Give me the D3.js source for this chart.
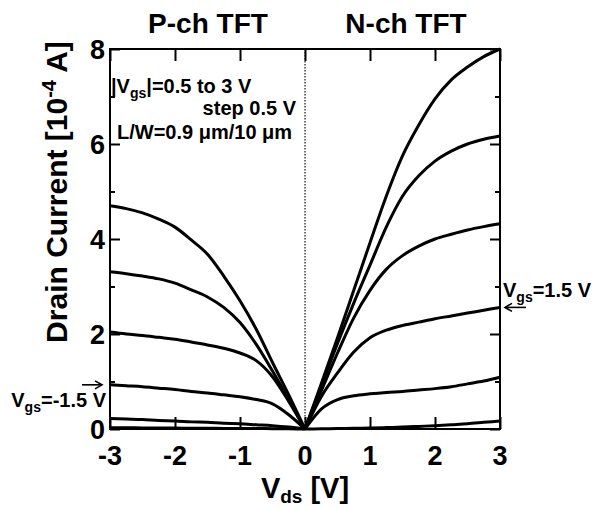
<!DOCTYPE html>
<html>
<head>
<meta charset="utf-8">
<script src="https://cdn.jsdelivr.net/npm/d3@7"></script>
<style>
	body { margin: 0; background: #fff; }
	svg { display: block; font-family: "Liberation Sans", Arial, sans-serif; font-weight: bold; }
</style>
</head>
<body>
<div id="chart"></div>
<script>
// drain voltage grids [V]
var vdsN = [0, 0.25, 0.5, 0.75, 1, 1.25, 1.5, 1.75, 2, 2.25, 2.5, 2.75, 3];
var vdsP = [0, -0.25, -0.5, -0.75, -1, -1.25, -1.5, -1.75, -2, -2.25, -2.5, -2.75, -3];

// N-ch drain current [1e-4 A], |Vgs| = 0.5 .. 3 V
var nch05 = [0, 0.005, 0.01, 0.015, 0.02, 0.03, 0.04, 0.055, 0.07, 0.09, 0.11, 0.14, 0.17];
var nch10 = [0, 0.42, 0.62, 0.70, 0.74, 0.77, 0.79, 0.82, 0.85, 0.89, 0.95, 1.01, 1.09];
var nch15 = [0, 0.68, 1.18, 1.62, 1.92, 2.08, 2.18, 2.25, 2.32, 2.38, 2.44, 2.50, 2.56];
var nch20 = [0, 0.80, 1.60, 2.34, 2.92, 3.36, 3.65, 3.85, 4.00, 4.10, 4.19, 4.26, 4.32];
var nch25 = [0, 0.90, 1.80, 2.65, 3.45, 4.25, 4.90, 5.33, 5.64, 5.85, 6.00, 6.10, 6.17];
var nch30 = [0, 0.95, 1.92, 2.92, 3.92, 4.90, 5.75, 6.40, 6.95, 7.35, 7.62, 7.84, 8.00];

// P-ch drain current magnitude [1e-4 A]
var pch05 = [0, 0.004, 0.007, 0.009, 0.011, 0.013, 0.015, 0.017, 0.019, 0.021, 0.023, 0.025, 0.027];
var pch10 = [0, 0.04, 0.07, 0.09, 0.11, 0.12, 0.14, 0.15, 0.17, 0.18, 0.20, 0.21, 0.22];
var pch15 = [0, 0.30, 0.53, 0.62, 0.68, 0.72, 0.76, 0.79, 0.83, 0.86, 0.89, 0.91, 0.93];
var pch20 = [0, 0.58, 1.10, 1.44, 1.60, 1.70, 1.77, 1.83, 1.89, 1.93, 1.97, 2.00, 2.04];
var pch25 = [0, 0.62, 1.22, 1.78, 2.24, 2.56, 2.78, 2.93, 3.07, 3.16, 3.22, 3.27, 3.31];
var pch30 = [0, 0.72, 1.40, 2.10, 2.70, 3.22, 3.68, 3.98, 4.25, 4.42, 4.55, 4.64, 4.70];

var xTicks = [-3, -2, -1, 0, 1, 2, 3];
var yTicks = [0, 2, 4, 6, 8];
var yMinor = [1, 3, 5, 7];

var width = 595, height = 510;
var plot = {left: 110, right: 500, top: 49, bottom: 429};

var svg = d3.select('#chart').append('svg')
	.attr('width', width)
	.attr('height', height)
	.attr('viewBox', '0 0 ' + width + ' ' + height);

var x = d3.scaleLinear().domain([-3, 3]).range([plot.left, plot.right]);
var y = d3.scaleLinear().domain([0, 8]).range([plot.bottom, plot.top]);

// zero line
svg.append('line')
	.attr('x1', x(0)).attr('x2', x(0))
	.attr('y1', y(8)).attr('y2', y(0))
	.attr('stroke', '#444')
	.attr('stroke-width', 1.5)
	.attr('stroke-dasharray', '1.5,1.5');

// curves
var line = d3.line()
	.x(function(d) { return x(d[0]); })
	.y(function(d) { return y(d[1]); })
	.curve(d3.curveMonotoneX);

function pts(vds, id) {
	return vds.map(function(v, i) { return [v, id[i]]; })
		.sort(function(a, b) { return a[0] - b[0]; });
}

var curves = [
	pts(vdsN, nch05), pts(vdsN, nch10), pts(vdsN, nch15),
	pts(vdsN, nch20), pts(vdsN, nch25), pts(vdsN, nch30),
	pts(vdsP, pch05), pts(vdsP, pch10), pts(vdsP, pch15),
	pts(vdsP, pch20), pts(vdsP, pch25), pts(vdsP, pch30)
];

svg.append('g').selectAll('path')
	.data(curves)
	.enter().append('path')
	.attr('d', line)
	.attr('fill', 'none')
	.attr('stroke', '#000')
	.attr('stroke-width', 3)
	.attr('stroke-linejoin', 'round');

// axes (ticks pointing inward on all four sides)
var bottomAxis = d3.axisTop(x).tickValues(xTicks).tickSize(12).tickFormat('');
var topAxis = d3.axisBottom(x).tickValues(xTicks).tickSize(12).tickFormat('');
svg.append('g').attr('transform', 'translate(0,' + plot.bottom + ')').call(bottomAxis);
svg.append('g').attr('transform', 'translate(0,' + plot.top + ')').call(topAxis);

svg.append('g').attr('transform', 'translate(' + plot.left + ',0)')
	.call(d3.axisRight(y).tickValues(yTicks).tickSize(10).tickFormat(''));
svg.append('g').attr('transform', 'translate(' + plot.left + ',0)')
	.call(d3.axisRight(y).tickValues(yMinor).tickSize(5).tickFormat(''));
svg.append('g').attr('transform', 'translate(' + plot.right + ',0)')
	.call(d3.axisLeft(y).tickValues(yTicks).tickSize(10).tickFormat(''));
svg.append('g').attr('transform', 'translate(' + plot.right + ',0)')
	.call(d3.axisLeft(y).tickValues(yMinor).tickSize(5).tickFormat(''));

svg.selectAll('.domain').remove();
svg.selectAll('.tick line').attr('stroke', '#000').attr('stroke-width', 2);

// frame
svg.append('rect')
	.attr('x', plot.left).attr('y', plot.top)
	.attr('width', plot.right - plot.left)
	.attr('height', plot.bottom - plot.top)
	.attr('fill', 'none')
	.attr('stroke', '#000')
	.attr('stroke-width', 2);

// tick labels
svg.append('g').selectAll('text')
	.data(xTicks)
	.enter().append('text')
	.attr('x', function(d) { return x(d); })
	.attr('y', 465)
	.attr('text-anchor', 'middle')
	.attr('font-size', 27)
	.text(function(d) { return d; });

svg.append('g').selectAll('text')
	.data(yTicks)
	.enter().append('text')
	.attr('x', plot.left - 5)
	.attr('y', function(d) { return y(d); })
	.attr('dy', '0.36em')
	.attr('text-anchor', 'end')
	.attr('font-size', 27)
	.text(function(d) { return d; });

// axis titles
var xl = svg.append('text')
	.attr('x', 305).attr('y', 498)
	.attr('text-anchor', 'middle')
	.attr('font-size', 29);
xl.append('tspan').text('V');
xl.append('tspan').attr('font-size', 19).attr('dy', 5).text('ds');
xl.append('tspan').attr('dy', -5).text(' [V]');

var yl = svg.append('text')
	.attr('transform', 'translate(67,192) rotate(-90)')
	.attr('text-anchor', 'middle')
	.attr('font-size', 30);
yl.append('tspan').text('Drain Current [10');
yl.append('tspan').attr('font-size', 20).attr('dy', -11).text('-4');
yl.append('tspan').attr('dy', 11).text(' A]');

// channel titles
svg.append('text').attr('x', 208).attr('y', 33).attr('text-anchor', 'middle')
	.attr('font-size', 28).text('P-ch TFT');
svg.append('text').attr('x', 406).attr('y', 33).attr('text-anchor', 'middle')
	.attr('font-size', 28).text('N-ch TFT');

// condition note
var n1 = svg.append('text').attr('x', 111).attr('y', 93).attr('font-size', 20);
n1.append('tspan').text('|V');
n1.append('tspan').attr('font-size', 14).attr('dy', 5).text('gs');
n1.append('tspan').attr('dy', -5).text('|=0.5 to 3 V');
svg.append('text').attr('x', 296).attr('y', 115).attr('text-anchor', 'end')
	.attr('font-size', 20).text('step 0.5 V');
svg.append('text').attr('x', 117).attr('y', 139)
	.attr('font-size', 20).text('L/W=0.9 \u03bcm/10 \u03bcm');

// Vgs markers
function arrow(x1, x2, yy) {
	var dir = x2 > x1 ? 1 : -1;
	svg.append('line')
		.attr('x1', x1).attr('x2', x2).attr('y1', yy).attr('y2', yy)
		.attr('stroke', '#000').attr('stroke-width', 1.6);
	svg.append('path')
		.attr('d', 'M' + (x2 - dir * 7) + ',' + (yy - 4) + 'L' + x2 + ',' + yy + 'L' + (x2 - dir * 7) + ',' + (yy + 4))
		.attr('fill', 'none').attr('stroke', '#000').attr('stroke-width', 1.6);
}

var m1 = svg.append('text').attr('x', 106).attr('y', 407)
	.attr('text-anchor', 'end').attr('font-size', 20);
m1.append('tspan').text('V');
m1.append('tspan').attr('font-size', 14).attr('dy', 5).text('gs');
m1.append('tspan').attr('dy', -5).text('=-1.5 V');
arrow(82, 102, y(pch15[pch15.length - 1]));

var m2 = svg.append('text').attr('x', 503).attr('y', 297).attr('font-size', 20);
m2.append('tspan').text('V');
m2.append('tspan').attr('font-size', 14).attr('dy', 5).text('gs');
m2.append('tspan').attr('dy', -5).text('=1.5 V');
arrow(526, 505, y(nch15[nch15.length - 1]));
</script>
</body>
</html>
